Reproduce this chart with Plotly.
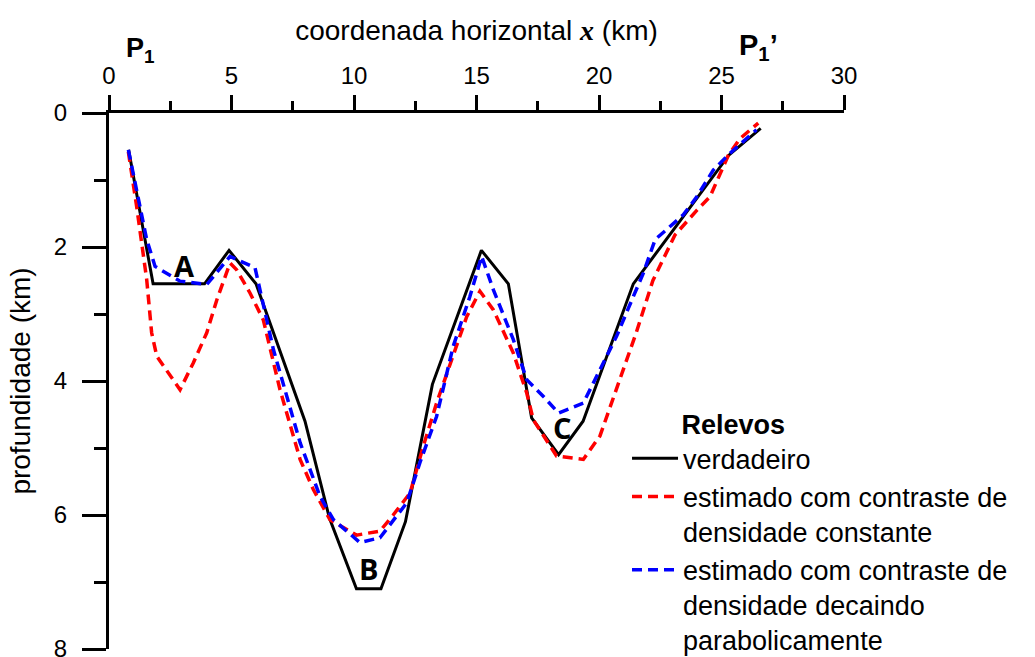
import plotly.graph_objects as go

# Horizontal coordinate (km) and depth (km) of each relief profile
true_x = [0.8, 1.8, 3.9, 4.9, 6.0, 8.0, 9.0, 10.1, 11.1, 12.1, 13.2, 15.2, 16.3, 17.25, 18.35, 19.35, 21.4, 25.3, 26.6]
true_y = [0.55, 2.55, 2.55, 2.05, 2.55, 4.6, 6.05, 7.1, 7.1, 6.1, 4.05, 2.05, 2.55, 4.55, 5.1, 4.6, 2.55, 0.63, 0.23]

const_x = [0.79, 1.13, 1.54, 1.74, 1.95, 2.9, 3.44, 3.99, 4.4, 4.94, 5.21, 5.76, 6.3, 6.98, 7.8,
           8.34, 9.02, 10.1, 11.06, 11.6, 12.29, 12.83, 13.37, 14.05, 14.6, 15.14, 15.69, 16.5,
           17.05, 17.32, 18.27, 19.36, 20.04, 20.99, 21.5, 22.2, 23.1, 24.0, 24.53, 25.28, 25.76, 26.5]
const_y = [0.58, 1.4, 2.49, 3.28, 3.63, 4.13, 3.73, 3.28, 2.79, 2.24, 2.34, 2.69, 3.09, 4.13, 5.17,
           5.62, 6.07, 6.3, 6.24, 6.0, 5.67, 4.97, 4.33, 3.63, 3.04, 2.66, 2.94, 3.58,
           4.18, 4.58, 5.12, 5.17, 4.82, 3.83, 3.3, 2.5, 1.82, 1.45, 1.25, 0.63, 0.38, 0.15]

parab_x = [0.79, 1.54, 1.88, 2.9, 3.99, 4.94, 5.96, 6.3, 6.71, 7.8, 8.61, 9.16, 10.24, 11.06, 12.15,
           12.69, 13.37, 14.05, 14.73, 15.21, 15.69, 16.5, 17.05, 17.73, 18.35, 19.36, 19.91, 20.72,
           21.4, 21.81, 22.29, 22.9, 23.44, 23.99, 24.67, 25.35, 26.43]
parab_y = [0.55, 1.89, 2.29, 2.51, 2.56, 2.14, 2.31, 2.89, 3.53, 4.92, 5.72, 6.07, 6.41, 6.34, 5.82,
           5.22, 4.53, 3.48, 2.74, 2.14, 2.64, 3.38, 3.98, 4.23, 4.48, 4.33, 3.93, 3.33,
           2.74, 2.39, 1.89, 1.69, 1.52, 1.25, 0.85, 0.6, 0.25]

x_ticks = [0, 5, 10, 15, 20, 25, 30]
y_ticks = [0, 2, 4, 6, 8]

# Feature labels (A, B, C)
feature_labels = ["A", "B", "C"]
feature_x = [3.07, 10.61, 18.5]
feature_y = [2.27, 6.8, 4.7]

FONT = "Liberation Sans, Arial, sans-serif"

fig = go.Figure()
fig.add_trace(go.Scatter(
    x=true_x, y=true_y, mode="lines", name="verdadeiro",
    line=dict(color="black", width=3)))
fig.add_trace(go.Scatter(
    x=const_x, y=const_y, mode="lines",
    name="estimado com contraste de<br>densidade constante",
    line=dict(color="#ff0000", width=3.5, dash="10px,6px")))
fig.add_trace(go.Scatter(
    x=parab_x, y=parab_y, mode="lines",
    name="estimado com contraste de<br>densidade decaindo<br>parabolicamente",
    line=dict(color="#0000ff", width=3.5, dash="10px,6px")))

for lab, lx, ly in zip(feature_labels, feature_x, feature_y):
    fig.add_annotation(x=lx, y=ly, text=f"<b>{lab}</b>", showarrow=False,
                       font=dict(family="Open Sans, sans-serif", size=29, color="black"))

# Profile end points P1 and P1'
fig.add_annotation(x=1.27, y=1.118, yref="paper", yanchor="middle",
                   text="<b>P<sub>1</sub></b>", showarrow=False,
                   font=dict(family=FONT, size=27, color="black"))
fig.add_annotation(x=26.5, y=1.124, yref="paper", yanchor="middle",
                   text="<b>P<sub>1</sub>’</b>", showarrow=False,
                   font=dict(family=FONT, size=29, color="black"))

fig.update_layout(
    width=1035, height=657,
    margin=dict(l=109, r=191, t=113, b=8, autoexpand=False),
    plot_bgcolor="white", paper_bgcolor="white",
    font=dict(family=FONT, color="black"),
    legend=dict(
        x=0.7048, y=0.466, xanchor="left", yanchor="top",
        bgcolor="rgba(0,0,0,0)", valign="top", itemwidth=46,
        font=dict(family=FONT, size=27, color="black"),
        title=dict(text="&nbsp;&nbsp;&nbsp;&nbsp;&nbsp;&nbsp;&nbsp;<b>Relevos</b>",
                   font=dict(family=FONT, size=27, color="black")),
        tracegroupgap=0,
    ),
    xaxis=dict(
        side="top", range=[0, 30], tickvals=x_ticks,
        showline=True, linecolor="black", linewidth=3,
        ticks="outside", ticklen=15, tickwidth=3, tickcolor="black",
        minor=dict(dtick=2.5, tick0=0, ticks="outside", ticklen=9, tickwidth=3, tickcolor="black"),
        showgrid=False, zeroline=False,
        tickfont=dict(family=FONT, size=24, color="black"),
        ticklabelstandoff=1, ticklabeloverflow="allow",
        title=dict(text="coordenada horizontal <span style='font-family:Liberation Serif,Times New Roman,serif'><b><i>x</i></b></span> (km)",
                   font=dict(family=FONT, size=28, color="black"), standoff=14),
    ),
    yaxis=dict(
        range=[8, 0], tickvals=y_ticks,
        showline=True, linecolor="black", linewidth=3,
        ticks="outside", ticklen=24, tickwidth=3, tickcolor="black",
        minor=dict(dtick=1, tick0=0, ticks="outside", ticklen=12, tickwidth=3, tickcolor="black"),
        showgrid=False, zeroline=False,
        tickfont=dict(family=FONT, size=24, color="black"),
        ticklabelstandoff=10, ticklabeloverflow="allow",
        title=dict(text="profundidade (km)",
                   font=dict(family=FONT, size=28, color="black"), standoff=16),
    ),
)

fig.write_html("out.html")
